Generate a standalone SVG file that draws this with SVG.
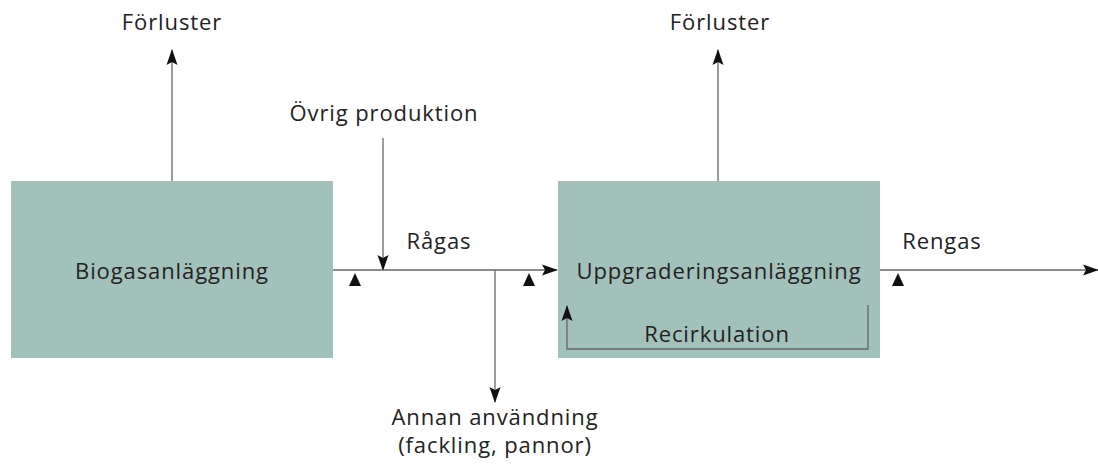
<svg xmlns="http://www.w3.org/2000/svg" width="1098" height="468" viewBox="0 0 1098 468">
<style>
.t{font-family:"Open Sans","Liberation Sans",Arial,sans-serif;font-size:22px;letter-spacing:0.9px;fill:#222;text-anchor:middle}
.box{fill:#a3c1bb}
.ln{stroke:#666;stroke-width:1.3;fill:none}
.tri{fill:#111}
</style>
<defs>
<marker id="ah" markerWidth="16" markerHeight="12" refX="15" refY="6" orient="auto" markerUnits="userSpaceOnUse">
<path d="M0,0.5 L16,6 L0,11.5 L3,6 Z" fill="#111"/>
</marker>
</defs>
<rect width="1098" height="468" fill="#fff"/>
<g id="biogas">
<rect class="box" x="11" y="181" width="322" height="177"/>
<text class="t" x="172" y="279">Biogasanläggning</text>
</g>
<g id="uppgradering">
<rect class="box" x="558" y="181" width="322" height="177"/>
<text class="t" x="719" y="279">Uppgraderingsanläggning</text>
</g>
<g id="labels">
<text class="t" x="172" y="30">Förluster</text>
<text class="t" x="720" y="30">Förluster</text>
<text class="t" x="384" y="121">Övrig produktion</text>
<text class="t" x="439" y="249">Rågas</text>
<text class="t" x="942" y="249">Rengas</text>
<text class="t" x="495" y="425">Annan användning</text>
<text class="t" x="495" y="453">(fackling, pannor)</text>
<text class="t" x="717" y="342">Recirkulation</text>
</g>
<g id="connectors">
<line class="ln" x1="172" y1="181" x2="172" y2="50" marker-end="url(#ah)"/>
<line class="ln" x1="718" y1="181" x2="718" y2="50" marker-end="url(#ah)"/>
<line class="ln" x1="383" y1="138" x2="383" y2="270" marker-end="url(#ah)"/>
<line class="ln" x1="333" y1="270" x2="557" y2="270" marker-end="url(#ah)"/>
<line class="ln" x1="495" y1="270" x2="495" y2="402" marker-end="url(#ah)"/>
<line class="ln" x1="880" y1="270" x2="1098" y2="270" marker-end="url(#ah)"/>
<polyline class="ln" points="868,305 868,349 567,349 567,306" marker-end="url(#ah)"/>
</g>
<g id="markers">
<path class="tri" d="M355,273 L361,286 L349,286 Z"/>
<path class="tri" d="M529,273 L535,286 L523,286 Z"/>
<path class="tri" d="M898,273 L904,286 L892,286 Z"/>
</g>
</svg>
